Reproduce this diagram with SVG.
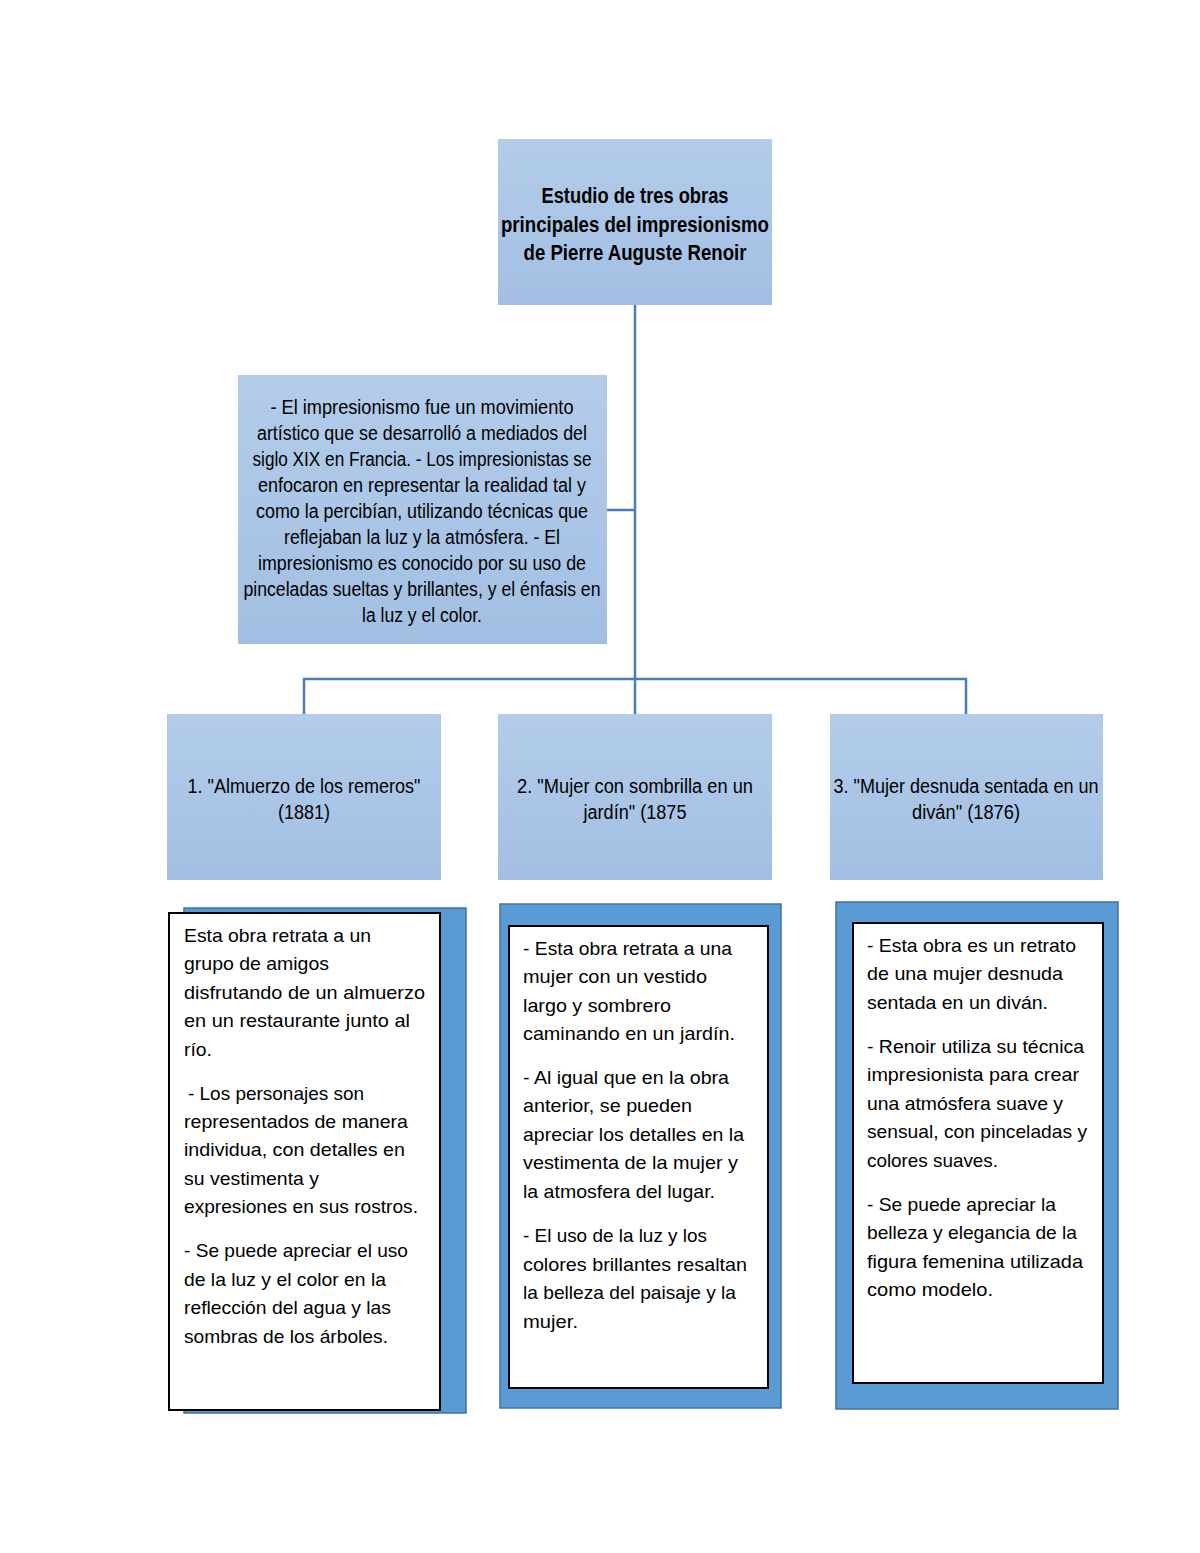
<svg xmlns="http://www.w3.org/2000/svg" width="1200" height="1553" viewBox="0 0 1200 1553">
<defs>
<linearGradient id="g" x1="0" y1="0" x2="0" y2="1">
<stop offset="0" stop-color="#B3CCEA"/>
<stop offset="1" stop-color="#A2BFE3"/>
</linearGradient>
</defs>
<style>
.node{fill:url(#g);}
.t{font-family:"Liberation Sans",Arial,sans-serif;fill:#000;}
.title{font-size:22px;font-weight:bold;text-anchor:middle;}
.nt{font-size:20px;text-anchor:middle;}
.bt{font-size:19px;}
.blue{fill:#5B9BD5;stroke:#41719C;stroke-width:1.5;}
.white{fill:#fff;stroke:#000;stroke-width:2;}
.conn{fill:none;stroke:#4A7DB5;stroke-width:2.5;}
</style>
<rect width="1200" height="1553" fill="#fff"/>
<g id="connectors">
<path class="conn" d="M635 305 V714"/>
<path class="conn" d="M607 510 H635"/>
<path class="conn" d="M304 714 V679 H966 V714"/>
</g>
<g id="root">
<rect class="node" x="498" y="139" width="274" height="166"/>
<text class="t title" x="635" y="203" textLength="187" lengthAdjust="spacingAndGlyphs">Estudio de tres obras</text>
<text class="t title" x="635" y="232" textLength="268" lengthAdjust="spacingAndGlyphs">principales del impresionismo</text>
<text class="t title" x="635" y="260" textLength="223" lengthAdjust="spacingAndGlyphs">de Pierre Auguste Renoir</text>
</g>
<g id="intro">
<rect class="node" x="238" y="375" width="369" height="269"/>
<text class="t nt" x="422" y="414" textLength="303" lengthAdjust="spacingAndGlyphs">- El impresionismo fue un movimiento</text>
<text class="t nt" x="422" y="440" textLength="330" lengthAdjust="spacingAndGlyphs">artístico que se desarrolló a mediados del</text>
<text class="t nt" x="422" y="466" textLength="339" lengthAdjust="spacingAndGlyphs">siglo XIX en Francia. - Los impresionistas se</text>
<text class="t nt" x="422" y="492" textLength="328" lengthAdjust="spacingAndGlyphs">enfocaron en representar la realidad tal y</text>
<text class="t nt" x="422" y="518" textLength="332" lengthAdjust="spacingAndGlyphs">como la percibían, utilizando técnicas que</text>
<text class="t nt" x="422" y="544" textLength="276" lengthAdjust="spacingAndGlyphs">reflejaban la luz y la atmósfera. - El</text>
<text class="t nt" x="422" y="570" textLength="328" lengthAdjust="spacingAndGlyphs">impresionismo es conocido por su uso de</text>
<text class="t nt" x="422" y="596" textLength="357" lengthAdjust="spacingAndGlyphs">pinceladas sueltas y brillantes, y el énfasis en</text>
<text class="t nt" x="422" y="622" textLength="120" lengthAdjust="spacingAndGlyphs">la luz y el color.</text>
</g>
<g id="obra1">
<rect class="node" x="167" y="714" width="274" height="166"/>
<text class="t nt" x="304" y="793" textLength="233" lengthAdjust="spacingAndGlyphs">1. "Almuerzo de los remeros"</text>
<text class="t nt" x="304" y="819" textLength="52" lengthAdjust="spacingAndGlyphs">(1881)</text>
</g>
<g id="obra2">
<rect class="node" x="498" y="714" width="274" height="166"/>
<text class="t nt" x="635" y="793" textLength="236" lengthAdjust="spacingAndGlyphs">2. "Mujer con sombrilla en un</text>
<text class="t nt" x="635" y="819" textLength="103" lengthAdjust="spacingAndGlyphs">jardín" (1875</text>
</g>
<g id="obra3">
<rect class="node" x="830" y="714" width="273" height="166"/>
<text class="t nt" x="966" y="793" textLength="265" lengthAdjust="spacingAndGlyphs">3. "Mujer desnuda sentada en un</text>
<text class="t nt" x="966" y="819" textLength="108" lengthAdjust="spacingAndGlyphs">diván" (1876)</text>
</g>
<g id="desc1">
<rect class="blue" x="184" y="908" width="282" height="505"/>
<rect class="white" x="169" y="913" width="271" height="497"/>
<text class="t bt" x="184" y="942" textLength="187" lengthAdjust="spacingAndGlyphs">Esta obra retrata a un</text>
<text class="t bt" x="184" y="970" textLength="145" lengthAdjust="spacingAndGlyphs">grupo de amigos</text>
<text class="t bt" x="184" y="999" textLength="241" lengthAdjust="spacingAndGlyphs">disfrutando de un almuerzo</text>
<text class="t bt" x="184" y="1027" textLength="226" lengthAdjust="spacingAndGlyphs">en un restaurante junto al</text>
<text class="t bt" x="184" y="1056" textLength="28" lengthAdjust="spacingAndGlyphs">río.</text>
<text class="t bt" x="188" y="1100" textLength="176" lengthAdjust="spacingAndGlyphs">- Los personajes son</text>
<text class="t bt" x="184" y="1128" textLength="224" lengthAdjust="spacingAndGlyphs">representados de manera</text>
<text class="t bt" x="184" y="1156" textLength="221" lengthAdjust="spacingAndGlyphs">individua, con detalles en</text>
<text class="t bt" x="184" y="1185" textLength="135" lengthAdjust="spacingAndGlyphs">su vestimenta y</text>
<text class="t bt" x="184" y="1213" textLength="234" lengthAdjust="spacingAndGlyphs">expresiones en sus rostros.</text>
<text class="t bt" x="184" y="1257" textLength="224" lengthAdjust="spacingAndGlyphs">- Se puede apreciar el uso</text>
<text class="t bt" x="184" y="1286" textLength="202" lengthAdjust="spacingAndGlyphs">de la luz y el color en la</text>
<text class="t bt" x="184" y="1314" textLength="207" lengthAdjust="spacingAndGlyphs">reflección del agua y las</text>
<text class="t bt" x="184" y="1343" textLength="204" lengthAdjust="spacingAndGlyphs">sombras de los árboles.</text>
</g>
<g id="desc2">
<rect class="blue" x="500" y="904" width="281" height="504"/>
<rect class="white" x="509" y="926" width="259" height="462"/>
<text class="t bt" x="523" y="955" textLength="209" lengthAdjust="spacingAndGlyphs">- Esta obra retrata a una</text>
<text class="t bt" x="523" y="983" textLength="184" lengthAdjust="spacingAndGlyphs">mujer con un vestido</text>
<text class="t bt" x="523" y="1012" textLength="148" lengthAdjust="spacingAndGlyphs">largo y sombrero</text>
<text class="t bt" x="523" y="1040" textLength="212" lengthAdjust="spacingAndGlyphs">caminando en un jardín.</text>
<text class="t bt" x="523" y="1084" textLength="206" lengthAdjust="spacingAndGlyphs">- Al igual que en la obra</text>
<text class="t bt" x="523" y="1112" textLength="169" lengthAdjust="spacingAndGlyphs">anterior, se pueden</text>
<text class="t bt" x="523" y="1141" textLength="221" lengthAdjust="spacingAndGlyphs">apreciar los detalles en la</text>
<text class="t bt" x="523" y="1169" textLength="215" lengthAdjust="spacingAndGlyphs">vestimenta de la mujer y</text>
<text class="t bt" x="523" y="1198" textLength="192" lengthAdjust="spacingAndGlyphs">la atmosfera del lugar.</text>
<text class="t bt" x="523" y="1242" textLength="184" lengthAdjust="spacingAndGlyphs">- El uso de la luz y los</text>
<text class="t bt" x="523" y="1271" textLength="224" lengthAdjust="spacingAndGlyphs">colores brillantes resaltan</text>
<text class="t bt" x="523" y="1299" textLength="213" lengthAdjust="spacingAndGlyphs">la belleza del paisaje y la</text>
<text class="t bt" x="523" y="1328" textLength="55" lengthAdjust="spacingAndGlyphs">mujer.</text>
</g>
<g id="desc3">
<rect class="blue" x="836" y="902" width="282" height="507"/>
<rect class="white" x="853" y="923" width="250" height="460"/>
<text class="t bt" x="867" y="952" textLength="209" lengthAdjust="spacingAndGlyphs">- Esta obra es un retrato</text>
<text class="t bt" x="867" y="980" textLength="196" lengthAdjust="spacingAndGlyphs">de una mujer desnuda</text>
<text class="t bt" x="867" y="1009" textLength="181" lengthAdjust="spacingAndGlyphs">sentada en un diván.</text>
<text class="t bt" x="867" y="1053" textLength="217" lengthAdjust="spacingAndGlyphs">- Renoir utiliza su técnica</text>
<text class="t bt" x="867" y="1081" textLength="212" lengthAdjust="spacingAndGlyphs">impresionista para crear</text>
<text class="t bt" x="867" y="1110" textLength="196" lengthAdjust="spacingAndGlyphs">una atmósfera suave y</text>
<text class="t bt" x="867" y="1138" textLength="220" lengthAdjust="spacingAndGlyphs">sensual, con pinceladas y</text>
<text class="t bt" x="867" y="1167" textLength="131" lengthAdjust="spacingAndGlyphs">colores suaves.</text>
<text class="t bt" x="867" y="1211" textLength="189" lengthAdjust="spacingAndGlyphs">- Se puede apreciar la</text>
<text class="t bt" x="867" y="1239" textLength="210" lengthAdjust="spacingAndGlyphs">belleza y elegancia de la</text>
<text class="t bt" x="867" y="1268" textLength="216" lengthAdjust="spacingAndGlyphs">figura femenina utilizada</text>
<text class="t bt" x="867" y="1296" textLength="126" lengthAdjust="spacingAndGlyphs">como modelo.</text>
</g>
</svg>
